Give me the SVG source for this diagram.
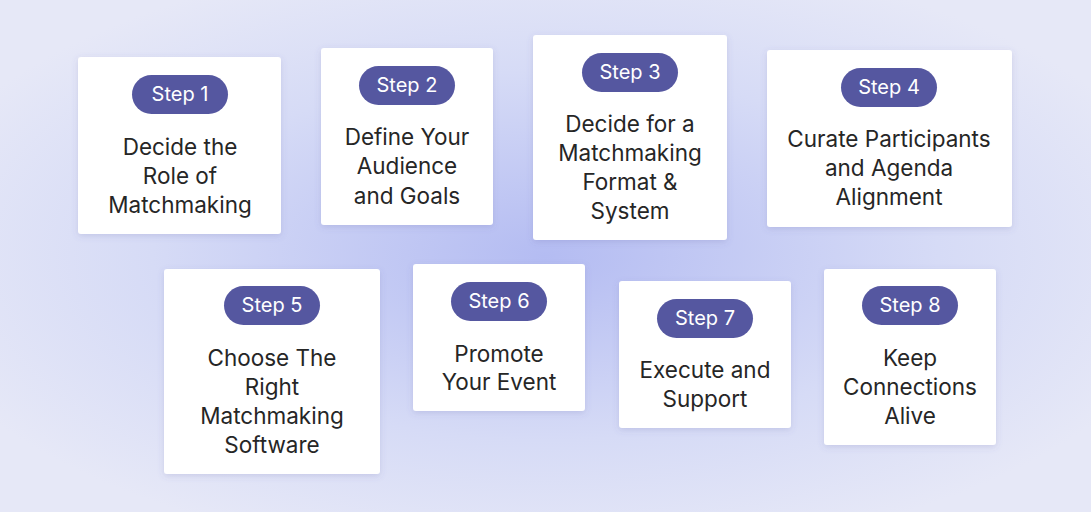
<svg xmlns="http://www.w3.org/2000/svg" width="1091" height="512" viewBox="0 0 1091 512">
<defs>
<radialGradient id="bg" cx="0.5" cy="0.5" r="0.6">
<stop offset="0" stop-color="#b4bcf2"/>
<stop offset="0.6" stop-color="#d6dbf6"/>
<stop offset="1" stop-color="#e6e8f7"/>
</radialGradient>
<filter id="sh" x="-10%" y="-10%" width="120%" height="120%"><feDropShadow dx="0" dy="2" stdDeviation="3" flood-color="#5a60a0" flood-opacity="0.18"/></filter>
</defs>
<style>
.card{fill:#fff;filter:url(#sh)}
.pill{fill:#5557a0}
.pt{fill:#fff;font-family:Inter,"Noto Sans",sans-serif;font-size:20px;text-anchor:middle}
.t{fill:#262626;font-family:Inter,"Noto Sans",sans-serif;font-size:22.5px;text-anchor:middle}
</style>
<rect width="1091" height="512" fill="url(#bg)"/>
<g id="connectors"/>
<g id="n1"><rect class="card" x="78" y="57" width="203" height="177" rx="3"/><rect class="pill" x="132" y="75" width="96" height="39" rx="19.5"/><text class="pt" x="180" y="101">Step 1</text><text class="t" x="180" y="155">Decide the</text><text class="t" x="180" y="184">Role of</text><text class="t" x="180" y="213">Matchmaking</text></g>
<g id="n2"><rect class="card" x="321" y="48" width="172" height="177" rx="3"/><rect class="pill" x="359" y="66" width="96" height="39" rx="19.5"/><text class="pt" x="407" y="92">Step 2</text><text class="t" x="407" y="145">Define Your</text><text class="t" x="407" y="174">Audience</text><text class="t" x="407" y="204">and Goals</text></g>
<g id="n3"><rect class="card" x="533" y="35" width="194" height="205" rx="3"/><rect class="pill" x="582" y="53" width="96" height="39" rx="19.5"/><text class="pt" x="630" y="79">Step 3</text><text class="t" x="630" y="132">Decide for a</text><text class="t" x="630" y="161">Matchmaking</text><text class="t" x="630" y="190">Format &amp;</text><text class="t" x="630" y="219">System</text></g>
<g id="n4"><rect class="card" x="767" y="50" width="245" height="177" rx="3"/><rect class="pill" x="841" y="68" width="96" height="39" rx="19.5"/><text class="pt" x="889" y="94">Step 4</text><text class="t" x="889" y="147">Curate Participants</text><text class="t" x="889" y="176">and Agenda</text><text class="t" x="889" y="205">Alignment</text></g>
<g id="n5"><rect class="card" x="164" y="269" width="216" height="205" rx="3"/><rect class="pill" x="224" y="286" width="96" height="39" rx="19.5"/><text class="pt" x="272" y="312">Step 5</text><text class="t" x="272" y="366">Choose The</text><text class="t" x="272" y="395">Right</text><text class="t" x="272" y="424">Matchmaking</text><text class="t" x="272" y="453">Software</text></g>
<g id="n6"><rect class="card" x="413" y="264" width="172" height="147" rx="3"/><rect class="pill" x="451" y="282" width="96" height="39" rx="19.5"/><text class="pt" x="499" y="308">Step 6</text><text class="t" x="499" y="362">Promote</text><text class="t" x="499" y="390">Your Event</text></g>
<g id="n7"><rect class="card" x="619" y="281" width="172" height="147" rx="3"/><rect class="pill" x="657" y="299" width="96" height="39" rx="19.5"/><text class="pt" x="705" y="325">Step 7</text><text class="t" x="705" y="378">Execute and</text><text class="t" x="705" y="407">Support</text></g>
<g id="n8"><rect class="card" x="824" y="269" width="172" height="176" rx="3"/><rect class="pill" x="862" y="286" width="96" height="39" rx="19.5"/><text class="pt" x="910" y="312">Step 8</text><text class="t" x="910" y="366">Keep</text><text class="t" x="910" y="395">Connections</text><text class="t" x="910" y="424">Alive</text></g>
</svg>
